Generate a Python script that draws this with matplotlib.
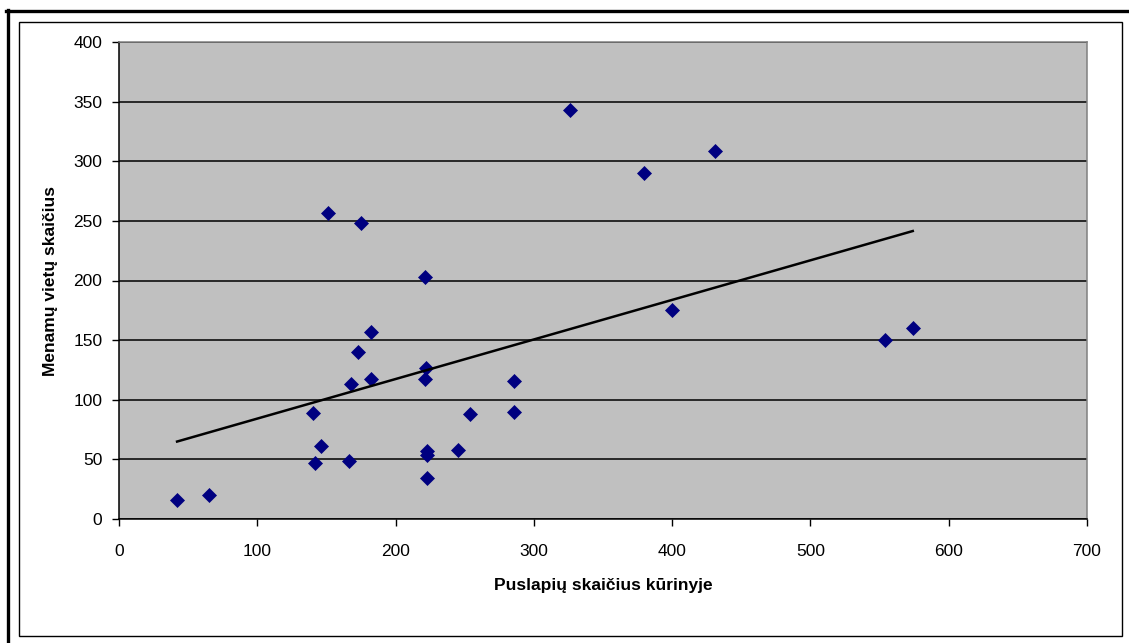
import matplotlib
matplotlib.use("Agg")
import matplotlib.pyplot as plt
from matplotlib.lines import Line2D
from matplotlib.patches import Rectangle
import numpy as np

plt.rcParams["font.family"] = ["Liberation Sans", "DejaVu Sans"]

# pages in the work vs. number of "imagined places"
pages = [42, 65, 140, 142, 146, 151, 166, 168, 173, 175, 182, 182,
         221, 222, 221, 223, 223, 223, 245, 254, 286, 286,
         326, 380, 400, 431, 554, 574]
places = [16, 20, 89, 47, 61, 257, 49, 113, 140, 248, 117, 157,
          203, 127, 117, 57, 54, 34, 58, 88, 116, 90,
          343, 290, 175, 309, 150, 160]

x_ticks = [0, 100, 200, 300, 400, 500, 600, 700]
y_ticks = [0, 50, 100, 150, 200, 250, 300, 350, 400]

W, H = 1129, 643
fig = plt.figure(figsize=(W / 100, H / 100), dpi=100)

def fx(px):
    return px / W

def fy(py):
    return 1 - py / H

#
# Frames
#
fig.add_artist(Line2D([fx(7.5), fx(7.5)], [fy(10), fy(643)],
                      color="black", linewidth=2.4, transform=fig.transFigure))
fig.add_artist(Line2D([fx(6), fx(1129)], [fy(11), fy(11)],
                      color="black", linewidth=2.4, transform=fig.transFigure))
fig.add_artist(Rectangle((fx(19), fy(636)), fx(1122) - fx(19), fy(22) - fy(636),
                         fill=False, edgecolor="black", linewidth=1.0,
                         transform=fig.transFigure))

#
# Plot area
#
ax = fig.add_axes([fx(119), fy(519), fx(1087) - fx(119), fy(42) - fy(519)])
ax.set_facecolor("#C0C0C0")

ax.set_xlim(0, 700)
ax.set_ylim(0, 400)
ax.set_xticks(x_ticks)
ax.set_yticks(y_ticks)

ax.grid(axis="y", color="black", linewidth=1.1)
ax.set_axisbelow(True)

ax.spines["left"].set_color("black")
ax.spines["bottom"].set_color("black")
ax.spines["top"].set_color("#808080")
ax.spines["right"].set_color("#808080")
for s in ax.spines.values():
    s.set_linewidth(1.1)

ax.tick_params(axis="both", direction="out", length=5, width=1.0,
               labelsize=12.5, colors="black")
ax.tick_params(axis="y", pad=7)
ax.tick_params(axis="x", pad=13)

ax.plot(pages, places, linestyle="none", marker="D", markersize=7,
        markerfacecolor="#000080", markeredgecolor="#000080",
        markeredgewidth=0.5, zorder=3)

# linear trend line over the data range
slope, intercept = np.polyfit(pages, places, 1)
xs = np.array([min(pages), max(pages)])
ax.plot(xs, slope * xs + intercept, color="black", linewidth=1.8, zorder=4)

ax.set_xlabel("Puslapių skaičius kūrinyje", fontsize=12.5,
              fontweight="bold", labelpad=13.5)
ax.set_ylabel("Menamų vietų skaičius", fontsize=12.5,
              fontweight="bold", labelpad=11)

fig.savefig("out.png", dpi=100)
plt.close(fig)
